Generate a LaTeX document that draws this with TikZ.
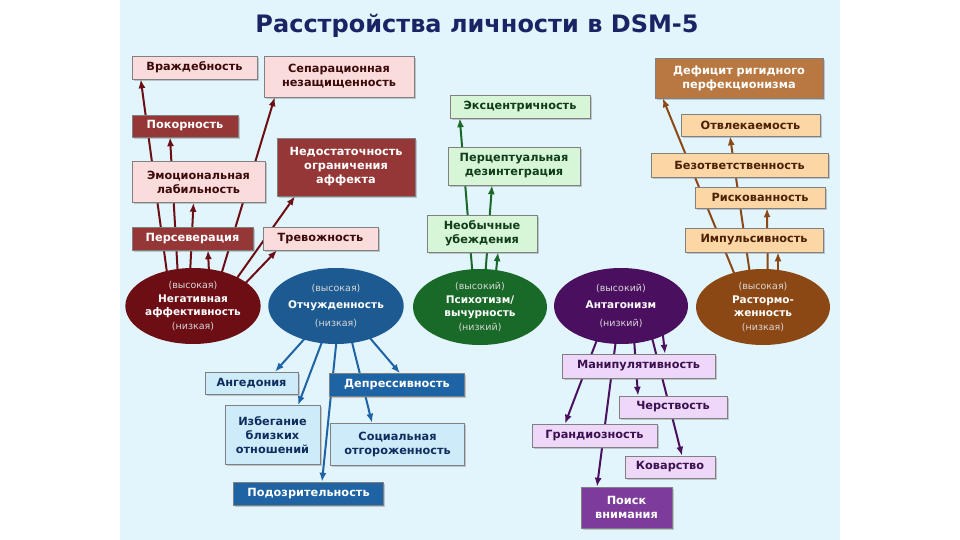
\documentclass[tikz,border=0pt]{standalone}
\usepackage{fontspec}
\setmainfont{DejaVu Sans}
\usetikzlibrary{shapes.geometric,shadows,arrows.meta}

\pgfdeclarelayer{bg}
\pgfdeclarelayer{lines}
\pgfsetlayers{bg,lines,main}

\definecolor{pagebg}{RGB}{226,245,252}
\definecolor{titleblue}{RGB}{26,36,100}
\definecolor{subgray}{RGB}{215,215,215}
% negative affectivity
\definecolor{negOval}{RGB}{108,14,20}
\definecolor{negLight}{RGB}{250,220,220}
\definecolor{negDark}{RGB}{150,55,55}
\definecolor{negText}{RGB}{60,10,10}
% detachment
\definecolor{detOval}{RGB}{28,90,145}
\definecolor{detLight}{RGB}{205,235,248}
\definecolor{detDark}{RGB}{30,100,165}
\definecolor{detText}{RGB}{15,45,95}
% psychoticism
\definecolor{psyOval}{RGB}{25,105,40}
\definecolor{psyLight}{RGB}{215,245,215}
\definecolor{psyText}{RGB}{15,60,25}
% antagonism
\definecolor{antOval}{RGB}{75,15,95}
\definecolor{antLight}{RGB}{238,215,248}
\definecolor{antDark}{RGB}{125,60,155}
\definecolor{antText}{RGB}{58,16,80}
% disinhibition
\definecolor{disOval}{RGB}{140,72,20}
\definecolor{disLight}{RGB}{250,215,165}
\definecolor{disDark}{RGB}{185,120,65}
\definecolor{disText}{RGB}{75,32,5}

\newcommand{\levtxt}[1]{{\fontsize{9.5}{11}\selectfont\mdseries\color{subgray}#1}}

\begin{document}
\begin{tikzpicture}[>={Latex[length=9pt,width=7pt]}, x=1pt, y=-1pt,
  box/.style={draw=black!50, line width=0.5pt, inner sep=1pt, align=center,
    font=\fontsize{11.3}{14}\selectfont\bfseries,
    drop shadow={shadow xshift=1.8pt, shadow yshift=-1.8pt, opacity=0.4}},
  negl/.style={box, fill=negLight, text=negText},
  negd/.style={box, fill=negDark, text=white},
  detl/.style={box, fill=detLight, text=detText},
  detd/.style={box, fill=detDark, text=white},
  psyl/.style={box, fill=psyLight, text=psyText},
  antl/.style={box, fill=antLight, text=antText},
  antd/.style={box, fill=antDark, text=white},
  disl/.style={box, fill=disLight, text=disText},
  disd/.style={box, fill=disDark, text=white},
  oval/.style={ellipse, minimum width=134pt, minimum height=76pt, inner sep=0pt,
    align=center, text=white, font=\fontsize{10.5}{13.8}\selectfont\bfseries},
  arr/.style={->, line width=2pt}]

\useasboundingbox (0,0) rectangle (960,540);
\begin{pgfonlayer}{bg}
  \fill [white] (0,0) rectangle (960,540);
  \fill [pagebg] (120,0) rectangle (840,540);
\end{pgfonlayer}

\node (title) at (477,26) [text=titleblue, font=\fontsize{24}{28}\selectfont\bfseries]
  {Расстройства личности в DSM-5};

% Negative affectivity
\node (neg) at (193,306) [oval, fill=negOval]
  {\levtxt{(высокая)}\\Негативная\\аффективность\\\levtxt{(низкая)}};
\node (vrazh) at (194.5,67.5) [negl, minimum width=125, minimum height=23] {Враждебность};
\node (separ) at (339,76.5) [negl, minimum width=150, minimum height=41] {Сепарационная\\незащищенность};
\node (pokorn) at (185,126) [negd, minimum width=106, minimum height=22] {Покорность};
\node (nedost) at (346,167) [negd, minimum width=138, minimum height=58] {Недостаточность\\ограничения\\аффекта};
\node (emoc) at (198.5,182) [negl, minimum width=133, minimum height=41] {Эмоциональная\\лабильность};
\node (persev) at (192.5,238.5) [negd, minimum width=121, minimum height=23] {Персеверация};
\node (trevozh) at (320.5,238.5) [negl, minimum width=115, minimum height=23] {Тревожность};

% Detachment
\node (otch) at (336,306) [oval, fill=detOval]
  {\levtxt{(высокая)}\\[4pt]Отчужденность\\[4pt]\levtxt{(низкая)}};
\node (anged) at (251.5,383) [detl, minimum width=93, minimum height=22] {Ангедония};
\node (depress) at (397,385) [detd, minimum width=135, minimum height=23] {Депрессивность};
\node (izbeg) at (272.5,435) [detl, minimum width=95, minimum height=59] {Избегание\\близких\\отношений};
\node (social) at (397.5,444) [detl, minimum width=134, minimum height=42] {Социальная\\отгороженность};
\node (podozr) at (308.5,493.5) [detd, minimum width=150, minimum height=23] {Подозрительность};

% Psychoticism
\node (psych) at (480,307) [oval, fill=psyOval]
  {\levtxt{(высокий)}\\Психотизм/\\вычурность\\\levtxt{(низкий)}};
\node (eksc) at (520,106.5) [psyl, minimum width=140, minimum height=23] {Эксцентричность};
\node (percep) at (514,166) [psyl, minimum width=132, minimum height=38] {Перцептуальная\\дезинтеграция};
\node (neob) at (482,233.5) [psyl, minimum width=110, minimum height=37] {Необычные\\убеждения};

% Antagonism
\node (antag) at (621,306) [oval, fill=antOval]
  {\levtxt{(высокий)}\\[4pt]Антагонизм\\[4pt]\levtxt{(низкий)}};
\node (manip) at (638.5,366) [antl, minimum width=153, minimum height=24] {Манипулятивность};
\node (cherst) at (673,407) [antl, minimum width=108, minimum height=22] {Черствость};
\node (grand) at (594.5,435.5) [antl, minimum width=125, minimum height=23] {Грандиозность};
\node (kovar) at (670,467) [antl, minimum width=90, minimum height=22] {Коварство};
\node (poisk) at (626.5,507.5) [antd, minimum width=91, minimum height=41] {Поиск\\внимания};

% Disinhibition
\node (rast) at (763,307) [oval, fill=disOval]
  {\levtxt{(высокая)}\\Растормо-\\женность\\\levtxt{(низкая)}};
\node (deficit) at (739,78) [disd, minimum width=168, minimum height=40] {Дефицит ригидного\\перфекционизма};
\node (otvl) at (750.5,125) [disl, minimum width=139, minimum height=22] {Отвлекаемость};
\node (bezotv) at (739.5,165) [disl, minimum width=177, minimum height=24] {Безответственность};
\node (risk) at (760,197.5) [disl, minimum width=130, minimum height=21] {Рискованность};
\node (impuls) at (754,240) [disl, minimum width=138, minimum height=24] {Импульсивность};

% Connectors (behind boxes)
\begin{pgfonlayer}{lines}
\foreach \dx/\dy/\to/\sx in {-23/-11/vrazh.south west/9, -14/-11/pokorn.south/-15,
    -4/-11/emoc.south/-5, 17/-11/persev.south/15.5, 22/-11/separ.south west/11,
    32/-11/nedost.south/-51, 45/-15/trevozh.south/-43.5} {
  \draw [arr, negOval] ([shift={(\dx,\dy)}]neg.center) -- ([xshift=\sx]\to);
}
\foreach \dx/\dy/\to/\sx in {-20/20/anged.north/23.5, -8/20/izbeg.north/25.5,
    2/20/podozr.north/13.5, 12/20/social.north/-25.5, 22/18/depress.north/3} {
  \draw [arr, detDark] ([shift={(\dx,\dy)}]otch.center) -- ([xshift=\sx]\to);
}
\foreach \dx/\dy/\to/\sx in {-6/-15/eksc.south west/10, 4/-15/percep.south/-22,
    14/-15/neob.south/16} {
  \draw [arr, psyOval] ([shift={(\dx,\dy)}]psych.center) -- ([xshift=\sx]\to);
}
\foreach \dx/\dy/\to/\sx in {-18/18/grand.north/-29.5, -3/18/poisk.north/-29.5,
    12/18/cherst.north/-35, 27/16/kovar.north/12, 40/12/manip.north/26.5} {
  \draw [arr, antOval] ([shift={(\dx,\dy)}]antag.center) -- ([xshift=\sx]\to);
}
\foreach \dx/\dy/\to/\sx in {-20/-12/deficit.south west/8, -10/-12/otvl.south/-20.5,
    5/-12/risk.south/7, 15/-12/impuls.south/24} {
  \draw [arr, disOval] ([shift={(\dx,\dy)}]rast.center) -- ([xshift=\sx]\to);
}
\end{pgfonlayer}
\end{tikzpicture}
\end{document}
